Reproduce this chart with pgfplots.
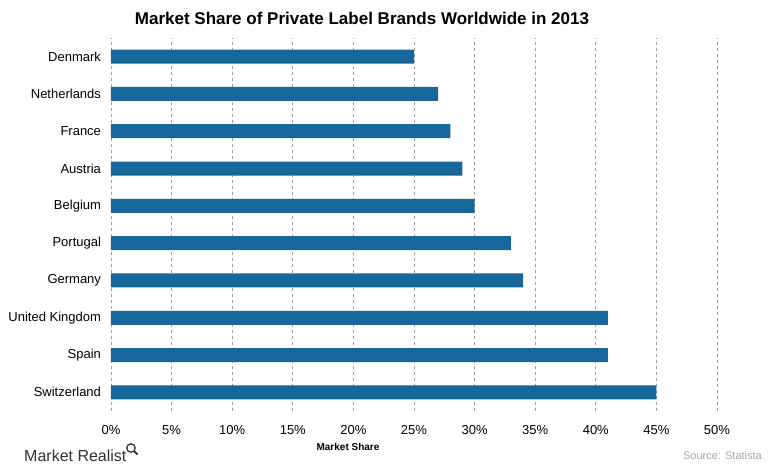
\documentclass[border=0pt]{standalone}
\usepackage{pgfplots}
\pgfplotsset{compat=1.18}
\usepackage{fontspec}
\setmainfont{Liberation Sans}
\definecolor{barblue}{HTML}{17679A}
\definecolor{gridgray}{HTML}{A0A0A0}
\definecolor{logogray}{HTML}{333333}
\definecolor{srcgray}{HTML}{A6A6A6}
\begin{document}
\begin{tikzpicture}
\path (0pt,0pt) rectangle (768pt,472pt);
\begin{axis}[
  at={(111pt,61pt)}, anchor=south west,
  scale only axis, width=606pt, height=373pt,
  xbar, bar width=14pt,
  xmin=0, xmax=50, ymin=-0.5, ymax=9.5,
  xtick={0,5,...,50},
  xticklabel={\pgfmathprintnumber{\tick}\%},
  ytick={0,...,9},
  yticklabels={Switzerland,Spain,United Kingdom,Germany,Portugal,Belgium,Austria,France,Netherlands,Denmark},
  axis line style={draw=none},
  major tick length=0pt,
  xmajorgrids,
  grid style={dashed, gridgray, line width=0.8pt},
  /pgf/number format/assume math mode=true,
  tick label style={font=\fontsize{13}{13}\selectfont},
  yticklabel style={xshift=-6.5pt},
  xticklabel style={yshift=-11pt},
]
\addplot[draw=none, fill=barblue] table[x=x, y=y] {
y x
0 45
1 41
2 41
3 34
4 33
5 30
6 29
7 28
8 27
9 25
};
\end{axis}
\node[font=\fontsize{17}{17}\selectfont\bfseries] at (362pt,454pt) {Market Share of Private Label Brands Worldwide in 2013};
\node[font=\fontsize{10}{10}\selectfont\bfseries] at (348pt,25pt) {Market Share};
\node[font=\fontsize{16}{16}\selectfont, text=logogray, anchor=west, inner sep=0pt] at (24pt,16pt) {Market Realist};
\draw[logogray, line width=1.3pt] (131pt,24pt) circle (4.2pt);
\draw[logogray, line width=1.8pt] (134pt,21pt) -- (137.5pt,17.5pt);
\node[font=\fontsize{11}{11}\selectfont, text=srcgray, anchor=east, inner sep=0pt] at (762pt,16pt) {Source: Statista};
\end{tikzpicture}
\end{document}
